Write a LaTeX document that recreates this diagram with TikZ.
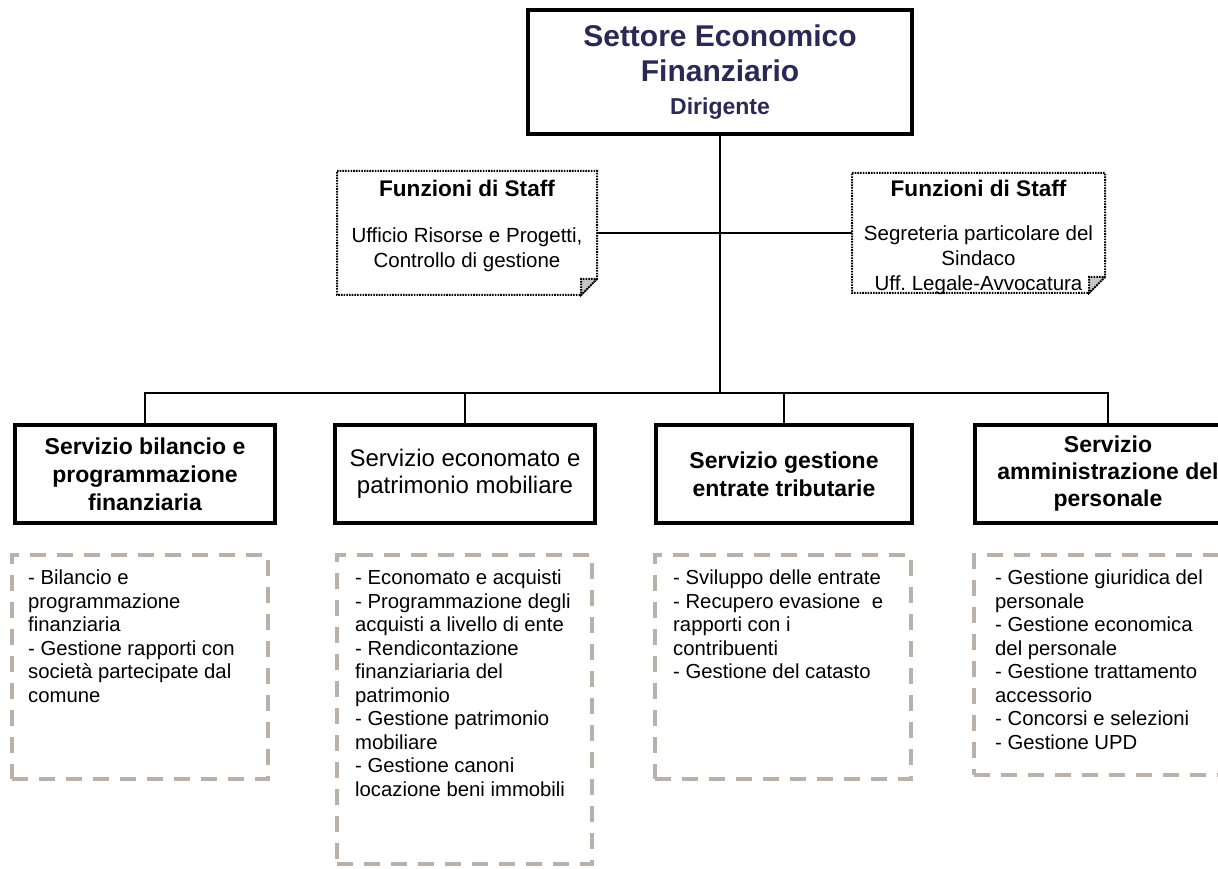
\documentclass[tikz,border=0pt]{standalone}
\usepackage{fontspec}
\setmainfont{Liberation Sans}
\usepackage{xcolor}
\usepackage{tikz}
\usetikzlibrary{positioning}
\definecolor{blunotte}{RGB}{42,40,84}
\definecolor{grigiotr}{RGB}{186,178,170}

\begin{document}
\begin{tikzpicture}[x=1pt, y=1pt,
    capo/.style={draw, line width=4.5pt, minimum width=384pt, minimum height=124pt, align=center, text=blunotte, inner sep=0pt, outer sep=0pt, font=\fontsize{30}{35}\selectfont\bfseries},
    staff/.style={minimum width=260pt, minimum height=124pt, inner sep=0pt, outer sep=0pt},
    puntini/.style={line width=2pt, dash pattern=on 1.6pt off 1.1pt},
    servizio/.style={draw, line width=3.5pt, minimum width=260pt, minimum height=98pt, align=center, inner sep=0pt, outer sep=0pt, font=\fontsize{23}{28}\selectfont\bfseries},
    compiti/.style={draw=grigiotr, line width=4pt, dash pattern=on 16pt off 11pt, inner sep=0pt, outer sep=0pt},
    testo/.style={anchor=north west, align=left, inner sep=0pt, font=\fontsize{20.3}{23.5}\selectfont},
    linea/.style={line width=1.8pt}]
                \clip (0,0) rectangle (1218,869);
                % Settore
                \node[capo] (capo) at (720,797) {Settore Economico\\Finanziario\\[-2pt]{\fontsize{23}{28}\selectfont Dirigente}};
                % Staff
                \node[staff] (stL) at (467,636) {};
                \node[staff, minimum width=253pt, minimum height=120pt] (stR) at (978.5,636) {};
                \draw[puntini] (stL.north west) -- (stL.north east) -- ([yshift=16pt]stL.south east) -- ([xshift=-16pt]stL.south east) -- (stL.south west) -- cycle;
                \filldraw[puntini, fill=gray!45] ([yshift=16pt]stL.south east) -- ([xshift=-16pt]stL.south east) -- ([shift={(-16pt,16pt)}]stL.south east) -- cycle;
                \draw[puntini] (stR.north west) -- (stR.north east) -- ([yshift=16pt]stR.south east) -- ([xshift=-16pt]stR.south east) -- (stR.south west) -- cycle;
                \filldraw[puntini, fill=gray!45] ([yshift=16pt]stR.south east) -- ([xshift=-16pt]stR.south east) -- ([shift={(-16pt,16pt)}]stR.south east) -- cycle;
                \node[font=\fontsize{22.6}{26}\selectfont\bfseries] (fL) at (467,681) {Funzioni di Staff};
                \node[align=center, font=\fontsize{20.5}{25}\selectfont] (uL) at (467,619.5) {Ufficio Risorse e Progetti,\\Controllo di gestione};
                \node[font=\fontsize{22.6}{26}\selectfont\bfseries] (fR) at (978.5,681) {Funzioni di Staff};
                \node[align=center, font=\fontsize{20.5}{25}\selectfont] (uR) at (978.5,609) {Segreteria particolare del\\Sindaco\\Uff.\ Legale-Avvocatura};
                % Servizi
                \node[servizio] (s1) at (145,395) {Servizio bilancio e\\programmazione\\finanziaria};
                \node[servizio, font=\fontsize{24}{27}\selectfont] (s2) at (465,395) {Servizio economato e\\patrimonio mobiliare};
                \node[servizio, minimum width=256pt] (s3) at (784,395) {Servizio gestione\\entrate tributarie};
                \node[servizio, minimum width=266pt, font=\fontsize{23}{27}\selectfont\bfseries] (s4) at (1108,395) {Servizio\\amministrazione del\\personale};
                % Collegamenti
                \coordinate (bus) at (720,476);
                \draw[linea] (capo.south) -- (bus);
                \draw[linea] (stL.east) -- (stR.west);
                \draw[linea] (s1.north) -- (s1.north |- bus) -- (s4.north |- bus) -- (s4.north);
                \draw[linea] (s2.north) -- (s2.north |- bus);
                \draw[linea] (s3.north) -- (s3.north |- bus);
                % Compiti
                \node[compiti, minimum width=256pt, minimum height=224pt] (d1) at (140,202) {};
                \node[compiti, minimum width=255pt, minimum height=309pt] (d2) at (464.5,159.5) {};
                \node[compiti, minimum width=256pt, minimum height=224pt] (d3) at (783,202) {};
                \node[compiti, minimum width=269pt, minimum height=220pt] (d4) at (1108.5,204) {};
                \node[testo] (t1) at ([shift={(16pt,-15pt)}]d1.north west) {- Bilancio e\\programmazione\\finanziaria\\- Gestione rapporti con\\società partecipate dal\\comune};
                \node[testo] (t2) at ([shift={(18pt,-15pt)}]d2.north west) {- Economato e acquisti\\- Programmazione degli\\acquisti a livello di ente\\- Rendicontazione\\finanziariaria del\\patrimonio\\- Gestione patrimonio\\mobiliare\\- Gestione canoni\\locazione beni immobili};
                \node[testo] (t3) at ([shift={(18pt,-15pt)}]d3.north west) {- Sviluppo delle entrate\\- Recupero evasione~ e\\rapporti con i\\contribuenti\\- Gestione del catasto};
                \node[testo] (t4) at ([shift={(21pt,-15pt)}]d4.north west) {- Gestione giuridica del\\personale\\- Gestione economica\\del personale\\- Gestione trattamento\\accessorio\\- Concorsi e selezioni\\- Gestione UPD};
            \end{tikzpicture}
\end{document}
